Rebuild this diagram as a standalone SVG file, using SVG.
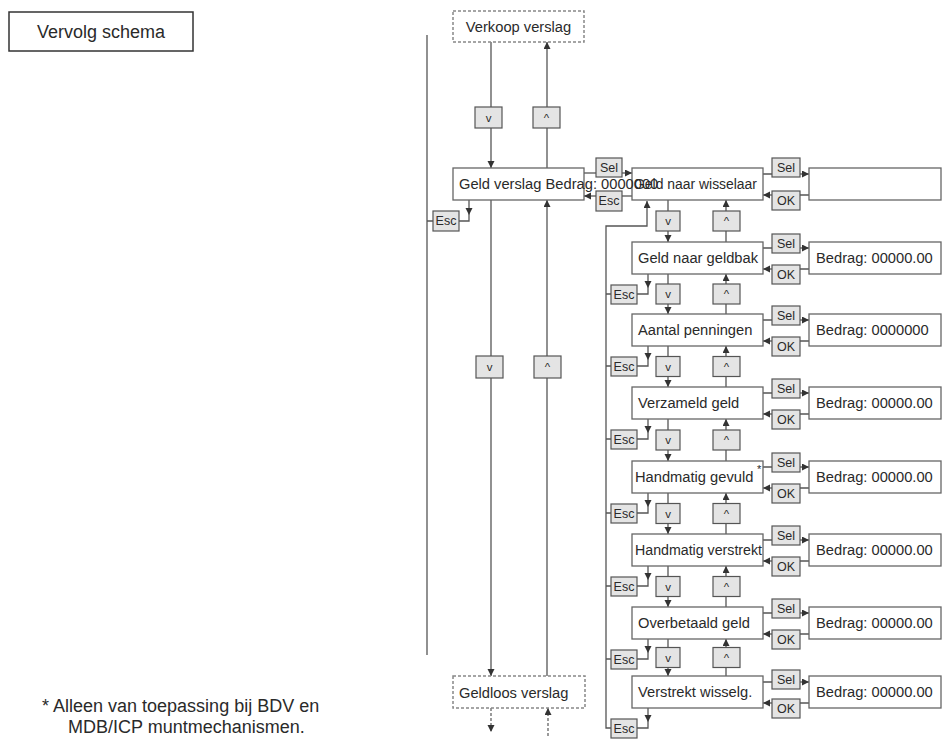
<svg xmlns="http://www.w3.org/2000/svg" width="951" height="748" viewBox="0 0 951 748">
<style>
text{font-family:"Liberation Sans",Arial,sans-serif;fill:#2a2a2a}
.box{fill:#fff;stroke:#666;stroke-width:1.3}
.dash{fill:#fff;stroke:#888;stroke-width:1.5;stroke-dasharray:3 2}
.key{fill:#e4e4e4;stroke:#555;stroke-width:1.2}
.lbl{font-size:14.7px}
.k{font-size:12.5px;text-anchor:middle}
.ar{font-size:11.5px;text-anchor:middle}
.ln{fill:none;stroke:#555;stroke-width:1.3}
.lnd{fill:none;stroke:#666;stroke-width:1.3;stroke-dasharray:3 2}
.arr{marker-end:url(#ah)}
</style>
<defs>
<marker id="ah" markerUnits="userSpaceOnUse" markerWidth="8" markerHeight="8" refX="7" refY="3.5" orient="auto">
<path d="M0,0 L7,3.5 L0,7 z" fill="#333"/>
</marker>
</defs>

<g id="connectors">
<path class="ln" d="M427,35V655"/>
<path class="ln arr" d="M491,42V168"/>
<path class="ln arr" d="M547,168V42"/>
<path class="ln arr" d="M491,200V676"/>
<path class="ln arr" d="M547,676V200"/>
<path class="lnd arr" d="M491,708V732"/>
<path class="lnd arr" d="M548,736V708"/>
<path class="ln" d="M584,173H596"/>
<path class="ln arr" d="M622,173H632"/>
<path class="ln" d="M632,196H622"/>
<path class="ln arr" d="M596,196H584"/>
<path class="ln arr" d="M469,200V215"/>
<path class="ln" d="M469,215V221H459M433,221H427"/>
<path class="ln arr" d="M611,728H606V226H647V201"/>
<path class="ln" d="M763,174H772M809,195H800"/>
<path class="ln arr" d="M800,174H809"/>
<path class="ln arr" d="M772,195H763"/>
<path class="ln" d="M763,248H772M809,269H800"/>
<path class="ln arr" d="M800,248H809"/>
<path class="ln arr" d="M772,269H763"/>
<path class="ln" d="M763,320H772M809,341H800"/>
<path class="ln arr" d="M800,320H809"/>
<path class="ln arr" d="M772,341H763"/>
<path class="ln" d="M763,393H772M809,414H800"/>
<path class="ln arr" d="M800,393H809"/>
<path class="ln arr" d="M772,414H763"/>
<path class="ln" d="M763,467H772M809,488H800"/>
<path class="ln arr" d="M800,467H809"/>
<path class="ln arr" d="M772,488H763"/>
<path class="ln" d="M763,540H772M809,561H800"/>
<path class="ln arr" d="M800,540H809"/>
<path class="ln arr" d="M772,561H763"/>
<path class="ln" d="M763,613H772M809,634H800"/>
<path class="ln arr" d="M800,613H809"/>
<path class="ln arr" d="M772,634H763"/>
<path class="ln" d="M763,682H772M809,703H800"/>
<path class="ln arr" d="M800,682H809"/>
<path class="ln arr" d="M772,703H763"/>
<path class="ln arr" d="M668,200V242"/>
<path class="ln arr" d="M668,274V314"/>
<path class="ln arr" d="M668,346V387"/>
<path class="ln arr" d="M668,419V461"/>
<path class="ln arr" d="M668,493V534"/>
<path class="ln arr" d="M668,566V607"/>
<path class="ln arr" d="M668,639V676"/>
<path class="ln arr" d="M726,242V200"/>
<path class="ln arr" d="M726,314V274"/>
<path class="ln arr" d="M726,387V346"/>
<path class="ln arr" d="M726,461V419"/>
<path class="ln arr" d="M726,534V493"/>
<path class="ln arr" d="M726,607V566"/>
<path class="ln arr" d="M726,676V639"/>
<path class="ln arr" d="M648,274V288"/>
<path class="ln" d="M648,288V294H637M611,294H606"/>
<path class="ln arr" d="M648,346V360"/>
<path class="ln" d="M648,360V366H637M611,366H606"/>
<path class="ln arr" d="M648,419V433"/>
<path class="ln" d="M648,433V439H637M611,439H606"/>
<path class="ln arr" d="M648,493V507"/>
<path class="ln" d="M648,507V513H637M611,513H606"/>
<path class="ln arr" d="M648,566V580"/>
<path class="ln" d="M648,580V586H637M611,586H606"/>
<path class="ln arr" d="M648,639V653"/>
<path class="ln" d="M648,653V659H637M611,659H606"/>
<path class="ln arr" d="M648,708V722"/>
<path class="ln" d="M648,722V728H637"/>
<g id="key-labels">
<rect class="key" x="475" y="107" width="27" height="21"/><text class="ar" x="488.5" y="122">v</text>
<rect class="key" x="533" y="107" width="27" height="21"/><text class="ar" x="546.5" y="122">^</text>
<rect class="key" x="476" y="356" width="27" height="22"/><text class="ar" x="489.5" y="371">v</text>
<rect class="key" x="534" y="356" width="27" height="22"/><text class="ar" x="547.5" y="371">^</text>
<rect class="key" x="596" y="158" width="26" height="19"/><text class="k" x="609" y="172">Sel</text>
<rect class="key" x="596" y="191" width="26" height="20"/><text class="k" x="609" y="205">Esc</text>
<rect class="key" x="433" y="211" width="26" height="20"/><text class="k" x="446" y="225">Esc</text>
<rect class="key" x="772" y="158" width="28" height="19"/><text class="k" x="786" y="172">Sel</text>
<rect class="key" x="772" y="191" width="28" height="19"/><text class="k" x="786" y="205">OK</text>
<rect class="key" x="772" y="234" width="28" height="19"/><text class="k" x="786" y="248">Sel</text>
<rect class="key" x="772" y="265" width="28" height="19"/><text class="k" x="786" y="279">OK</text>
<rect class="key" x="772" y="306" width="28" height="19"/><text class="k" x="786" y="320">Sel</text>
<rect class="key" x="772" y="337" width="28" height="19"/><text class="k" x="786" y="351">OK</text>
<rect class="key" x="772" y="379" width="28" height="19"/><text class="k" x="786" y="393">Sel</text>
<rect class="key" x="772" y="410" width="28" height="19"/><text class="k" x="786" y="424">OK</text>
<rect class="key" x="772" y="453" width="28" height="19"/><text class="k" x="786" y="467">Sel</text>
<rect class="key" x="772" y="484" width="28" height="19"/><text class="k" x="786" y="498">OK</text>
<rect class="key" x="772" y="526" width="28" height="19"/><text class="k" x="786" y="540">Sel</text>
<rect class="key" x="772" y="557" width="28" height="19"/><text class="k" x="786" y="571">OK</text>
<rect class="key" x="772" y="599" width="28" height="19"/><text class="k" x="786" y="613">Sel</text>
<rect class="key" x="772" y="630" width="28" height="19"/><text class="k" x="786" y="644">OK</text>
<rect class="key" x="772" y="670" width="28" height="19"/><text class="k" x="786" y="684">Sel</text>
<rect class="key" x="772" y="699" width="28" height="19"/><text class="k" x="786" y="713">OK</text>
<rect class="key" x="656" y="211" width="24" height="20"/><text class="ar" x="668" y="225">v</text>
<rect class="key" x="713" y="211" width="27" height="20"/><text class="ar" x="726.5" y="225">^</text>
<rect class="key" x="656" y="284" width="24" height="20"/><text class="ar" x="668" y="298">v</text>
<rect class="key" x="713" y="284" width="27" height="20"/><text class="ar" x="726.5" y="298">^</text>
<rect class="key" x="656" y="356.5" width="24" height="20"/><text class="ar" x="668" y="370.5">v</text>
<rect class="key" x="713" y="356.5" width="27" height="20"/><text class="ar" x="726.5" y="370.5">^</text>
<rect class="key" x="656" y="430" width="24" height="20"/><text class="ar" x="668" y="444">v</text>
<rect class="key" x="713" y="430" width="27" height="20"/><text class="ar" x="726.5" y="444">^</text>
<rect class="key" x="656" y="503.5" width="24" height="20"/><text class="ar" x="668" y="517.5">v</text>
<rect class="key" x="713" y="503.5" width="27" height="20"/><text class="ar" x="726.5" y="517.5">^</text>
<rect class="key" x="656" y="576.5" width="24" height="20"/><text class="ar" x="668" y="590.5">v</text>
<rect class="key" x="713" y="576.5" width="27" height="20"/><text class="ar" x="726.5" y="590.5">^</text>
<rect class="key" x="656" y="647.5" width="24" height="20"/><text class="ar" x="668" y="661.5">v</text>
<rect class="key" x="713" y="647.5" width="27" height="20"/><text class="ar" x="726.5" y="661.5">^</text>
<rect class="key" x="611" y="285" width="26" height="19"/><text class="k" x="624" y="299">Esc</text>
<rect class="key" x="611" y="357" width="26" height="19"/><text class="k" x="624" y="371">Esc</text>
<rect class="key" x="611" y="430" width="26" height="19"/><text class="k" x="624" y="444">Esc</text>
<rect class="key" x="611" y="504" width="26" height="19"/><text class="k" x="624" y="518">Esc</text>
<rect class="key" x="611" y="577" width="26" height="19"/><text class="k" x="624" y="591">Esc</text>
<rect class="key" x="611" y="650" width="26" height="19"/><text class="k" x="624" y="664">Esc</text>
<rect class="key" x="611" y="719" width="26" height="19"/><text class="k" x="624" y="733">Esc</text>
</g>
</g>

<g id="vervolg-schema">
<rect x="9" y="12" width="184" height="39" fill="#fff" stroke="#333" stroke-width="1.5"/>
<text x="101" y="38" font-size="18" text-anchor="middle">Vervolg schema</text>
</g>
<g id="verkoop-verslag">
<rect class="dash" x="453" y="11" width="131" height="31"/>
<text class="lbl" x="518.5" y="32" text-anchor="middle">Verkoop verslag</text>
</g>
<g id="geldloos-verslag">
<rect class="dash" x="453" y="676" width="132" height="32"/>
<text class="lbl" x="459" y="698">Geldloos verslag</text>
</g>
<g id="geld-naar-wisselaar">
<rect class="box" x="632" y="168" width="131" height="32"/>
<text class="lbl" x="634" y="189" textLength="123" lengthAdjust="spacingAndGlyphs">Geld naar wisselaar</text>
</g>
<g id="geld-verslag">
<rect class="box" x="453" y="168" width="131" height="32"/>
<text class="lbl" x="459" y="189">Geld verslag Bedrag: 0000000</text>
</g>
<g id="res-1"><rect class="box" x="809" y="168" width="132" height="32"/></g>
<g id="geld-naar-geldbak">
<rect class="box" x="632" y="242" width="131" height="32"/>
<text class="lbl" x="638" y="263">Geld naar geldbak</text>
</g>
<g id="res-2"><rect class="box" x="809" y="242" width="132" height="32"/><text class="lbl" x="816" y="263">Bedrag: 00000.00</text></g>
<g id="aantal-penningen">
<rect class="box" x="632" y="314" width="131" height="32"/>
<text class="lbl" x="638" y="335">Aantal penningen</text>
</g>
<g id="res-3"><rect class="box" x="809" y="314" width="132" height="32"/><text class="lbl" x="816" y="335">Bedrag: 0000000</text></g>
<g id="verzameld-geld">
<rect class="box" x="632" y="387" width="131" height="32"/>
<text class="lbl" x="638" y="408">Verzameld geld</text>
</g>
<g id="res-4"><rect class="box" x="809" y="387" width="132" height="32"/><text class="lbl" x="816" y="408">Bedrag: 00000.00</text></g>
<g id="handmatig-gevuld">
<rect class="box" x="632" y="461" width="131" height="32"/>
<text class="lbl" x="635" y="482">Handmatig gevuld</text>
<text x="757" y="473" font-size="11">*</text>
</g>
<g id="res-5"><rect class="box" x="809" y="461" width="132" height="32"/><text class="lbl" x="816" y="482">Bedrag: 00000.00</text></g>
<g id="handmatig-verstrekt">
<rect class="box" x="632" y="534" width="131" height="32"/>
<text class="lbl" x="635" y="555" textLength="127" lengthAdjust="spacingAndGlyphs">Handmatig verstrekt</text>
</g>
<g id="res-6"><rect class="box" x="809" y="534" width="132" height="32"/><text class="lbl" x="816" y="555">Bedrag: 00000.00</text></g>
<g id="overbetaald-geld">
<rect class="box" x="632" y="607" width="131" height="32"/>
<text class="lbl" x="638" y="628">Overbetaald geld</text>
</g>
<g id="res-7"><rect class="box" x="809" y="607" width="132" height="32"/><text class="lbl" x="816" y="628">Bedrag: 00000.00</text></g>
<g id="verstrekt-wisselg">
<rect class="box" x="632" y="676" width="131" height="32"/>
<text class="lbl" x="638" y="697">Verstrekt wisselg.</text>
</g>
<g id="res-8"><rect class="box" x="809" y="676" width="132" height="32"/><text class="lbl" x="816" y="697">Bedrag: 00000.00</text></g>

<g id="footnote">
<text x="42" y="712" font-size="18">* Alleen van toepassing bij BDV en</text>
<text x="68" y="733" font-size="18">MDB/ICP muntmechanismen.</text>
</g>
</svg>
